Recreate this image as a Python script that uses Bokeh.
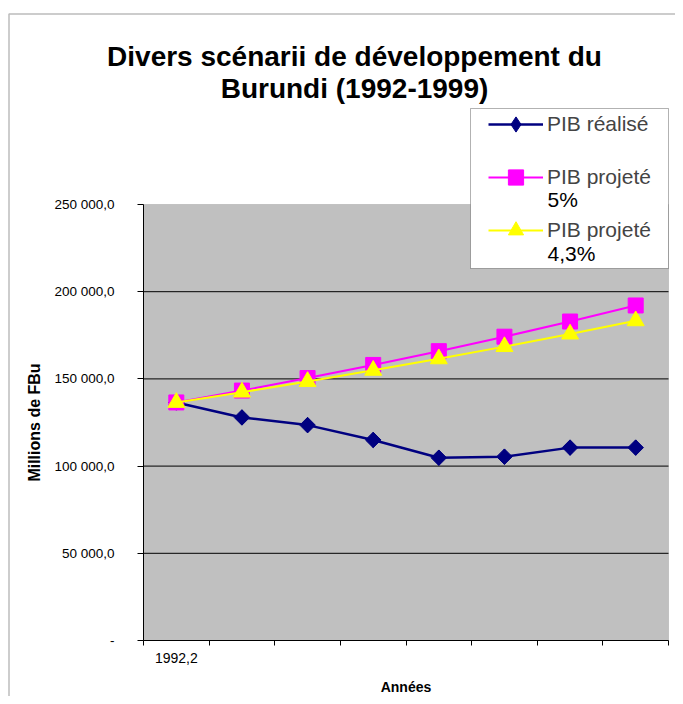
from bokeh.plotting import figure
from bokeh.models import Legend, LegendItem, FixedTicker, Label, BoxAnnotation, Range1d
from bokeh.embed import file_html
from bokeh.resources import INLINE

# ---- data ----
title_lines = ["Divers scénarii de développement du", "Burundi (1992-1999)"]
years = ["1992", "1993", "1994", "1995", "1996", "1997", "1998", "1999"]
first_x_label = "1992,2"
pib_realise = [136500, 127900, 123500, 115000, 104800, 105400, 110600, 110600]
pib_proj_5 = [136500, 143300, 150500, 158000, 165900, 174200, 182900, 192100]
pib_proj_43 = [136500, 142400, 148500, 154900, 161500, 168500, 175700, 183300]
y_ticks = [0, 50000, 100000, 150000, 200000, 250000]
y_tick_labels = ["-", "50 000,0", "100 000,0", "150 000,0", "200 000,0", "250 000,0"]
series_names = ["PIB réalisé", "PIB projeté", "PIB projeté"]
series_second_lines = ["5%", "4,3%"]
x_title = "Années"
y_title = "Millions de FBu"

FONT = "Liberation Sans"
xs = list(range(1, len(years) + 1))
x_lo, x_hi = xs[0] - 0.5, xs[-1] + 0.5
y_lo, y_hi = y_ticks[0], y_ticks[-1]

# ---- layout (pixels) ----
W, H = 675, 696
PL, PR, PT, PB = 143, 668, 204, 640          # plot-area edges
ppx = (PR - PL) / (x_hi - x_lo)
ppy = (PB - PT) / (y_hi - y_lo)
x_range = Range1d(x_lo - PL / ppx, x_hi + (W - PR) / ppx)
y_range = Range1d(y_lo - (H - PB) / ppy, y_hi + PT / ppy)

p = figure(width=W, height=H, output_backend="svg", toolbar_location=None,
           x_range=x_range, y_range=y_range,
           min_border=0, min_border_left=0, min_border_right=0,
           min_border_top=0, min_border_bottom=0,
           background_fill_color="white", border_fill_color="white",
           outline_line_color=None)
p.xgrid.visible = False
p.ygrid.visible = False

# grey plot area
p.add_layout(BoxAnnotation(left=x_lo, right=x_hi, bottom=y_lo, top=y_hi,
                           fill_color="#C0C0C0", fill_alpha=1,
                           line_color="#808080", line_width=1, level="underlay"))

# horizontal grid lines
grid_vals = [t for t in y_ticks if y_lo < t < y_hi]
p.segment(x0=[x_lo] * len(grid_vals), x1=[x_hi] * len(grid_vals),
          y0=grid_vals, y1=grid_vals, line_color="black", line_width=1)

# y axis
ya = p.yaxis[0]
ya.fixed_location = x_lo
ya.bounds = (y_lo, y_hi)
ya.ticker = FixedTicker(ticks=y_ticks)
ya.major_label_overrides = dict(zip(y_ticks, y_tick_labels))
ya.major_tick_out = 6
ya.major_tick_in = 0
ya.minor_tick_line_color = None
ya.axis_line_color = "black"
ya.major_tick_line_color = "black"
ya.major_label_standoff = 23
ya.major_label_text_font = FONT
ya.major_label_text_font_size = "13.5px"
ya.major_label_text_color = "black"
ya.axis_label = y_title
ya.axis_label_text_font = FONT
ya.axis_label_text_font_style = "bold"
ya.axis_label_text_font_size = "16px"
ya.axis_label_text_color = "black"
ya.axis_label_standoff = 8

# x axis
xa = p.xaxis[0]
xa.fixed_location = y_lo
xa.bounds = (x_lo, x_hi)
xa.ticker = FixedTicker(ticks=[xs[0]], minor_ticks=[x - 0.5 for x in xs] + [x_hi])
xa.major_label_overrides = {xs[0]: first_x_label}
xa.major_tick_line_color = None
xa.major_tick_out = 0
xa.major_tick_in = 0
xa.minor_tick_line_color = "black"
xa.minor_tick_out = 5
xa.minor_tick_in = 0
xa.axis_line_color = "black"
xa.major_label_standoff = 7
xa.major_label_text_font = FONT
xa.major_label_text_font_size = "14px"
xa.major_label_text_color = "black"
xa.axis_label = x_title
xa.axis_label_text_font = FONT
xa.axis_label_text_font_style = "bold"
xa.axis_label_text_font_size = "14px"
xa.axis_label_text_color = "black"
xa.axis_label_standoff = 13

# series
l1 = p.line(xs, pib_realise, line_color="#000080", line_width=2.5)
# narrow diamond (hidden under the square one in the plot, used for the legend key)
k1 = p.scatter(xs, pib_realise, marker="diamond", size=15,
               fill_color="#000080", line_color="#000080")
m1 = p.scatter(xs, pib_realise, marker="square", angle=0.785398, size=11,
               fill_color="#000080", line_color="#000080")
l2 = p.line(xs, pib_proj_5, line_color="#FF00FF", line_width=2)
m2 = p.scatter(xs, pib_proj_5, marker="square", size=15,
               fill_color="#FF00FF", line_color="#FF00FF")
l3 = p.line(xs, pib_proj_43, line_color="#FFFF00", line_width=2)
m3 = p.scatter(xs, pib_proj_43, marker="triangle", size=17,
               fill_color="#FFFF00", line_color="#FFFF00")

# outer chart border
p.add_layout(BoxAnnotation(left=8.5, right=W + 50, top=13.5, bottom=H + 50,
                           left_units="canvas", right_units="canvas",
                           top_units="canvas", bottom_units="canvas",
                           fill_alpha=0, line_color="#222222", line_width=1.5))

# legend box
p.add_layout(BoxAnnotation(left=470, right=668, top=108, bottom=268,
                           left_units="canvas", right_units="canvas",
                           top_units="canvas", bottom_units="canvas",
                           fill_color="white", fill_alpha=1, line_color="black", line_width=1))

legend = Legend(items=[LegendItem(label=series_names[0], renderers=[l1, k1]),
                       LegendItem(label=series_names[1], renderers=[l2, m2]),
                       LegendItem(label=series_names[2], renderers=[l3, m3])],
                location=(488, H - 249), padding=0, margin=0, spacing=15,
                glyph_width=55, glyph_height=38, label_standoff=4,
                label_text_font=FONT, label_text_font_size="21px",
                border_line_color=None, background_fill_alpha=0)
p.add_layout(legend)

for txt, yy in zip(series_second_lines, [199, 253]):
    p.add_layout(Label(x=547, y=yy, x_units="canvas", y_units="canvas", text=txt,
                       text_font=FONT, text_font_size="21px", text_baseline="middle",
                       text_align="left", text_color="black"))

# title
for txt, yy in zip(title_lines, [56, 88]):
    p.add_layout(Label(x=354, y=yy, x_units="canvas", y_units="canvas", text=txt,
                       text_font=FONT, text_font_size="28px", text_font_style="bold",
                       text_baseline="middle", text_align="center", text_color="black"))

open("out.html", "w").write(file_html(p, INLINE))
